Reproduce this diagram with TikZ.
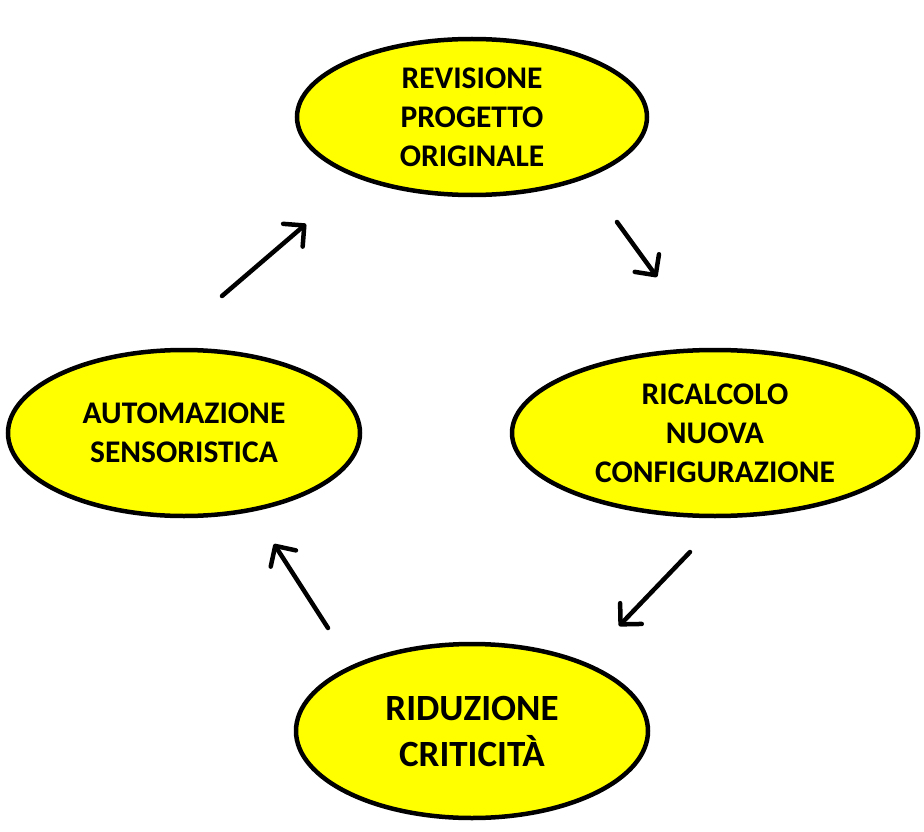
\documentclass[tikz,border=0pt]{standalone}
\usepackage{fontspec}
\setmainfont{Carlito}
\usetikzlibrary{shapes.geometric,arrows.meta}
\definecolor{phaseyellow}{RGB}{255,255,0}

\begin{document}
\begin{tikzpicture}[x=1pt,y=-1pt,
    phase/.style={ellipse,draw=black,line width=4.5pt,fill=phaseyellow,inner sep=0pt,
      align=center,font=\bfseries\fontsize{31.5}{39}\selectfont},
    cycle/.style={line width=4.5pt,line cap=round,
      -{Straight Barb[length=15pt,width=30pt,line width=4.5pt,round]}}]
      \useasboundingbox (0,0) rectangle (924,832);

      \node (rev) [phase,minimum width=350pt,minimum height=156pt] at (472,117)
        {REVISIONE\\PROGETTO\\ORIGINALE};
      \node (ric) [phase,minimum width=406pt,minimum height=166pt] at (715,433)
        {RICALCOLO\\NUOVA\\CONFIGURAZIONE};
      \node (rid) [phase,minimum width=352pt,minimum height=174pt,
        font=\bfseries\fontsize{37}{46}\selectfont] at (472,731)
        {RIDUZIONE\\CRITICITÀ};
      \node (aut) [phase,minimum width=352pt,minimum height=166pt] at (184,433)
        {AUTOMAZIONE\\SENSORISTICA};

      \coordinate (a1) at (222,296);
      \coordinate (a2) at (306,224);
      \coordinate (b1) at (617,222);
      \coordinate (b2) at (657,277);
      \coordinate (c1) at (690,552);
      \coordinate (c2) at (619,626);
      \coordinate (d1) at (328,628);
      \coordinate (d2) at (274,544);

      \path
        (a1) edge[cycle] (a2)
        (b1) edge[cycle] (b2)
        (c1) edge[cycle] (c2)
        (d1) edge[cycle] (d2);
    \end{tikzpicture}
\end{document}
